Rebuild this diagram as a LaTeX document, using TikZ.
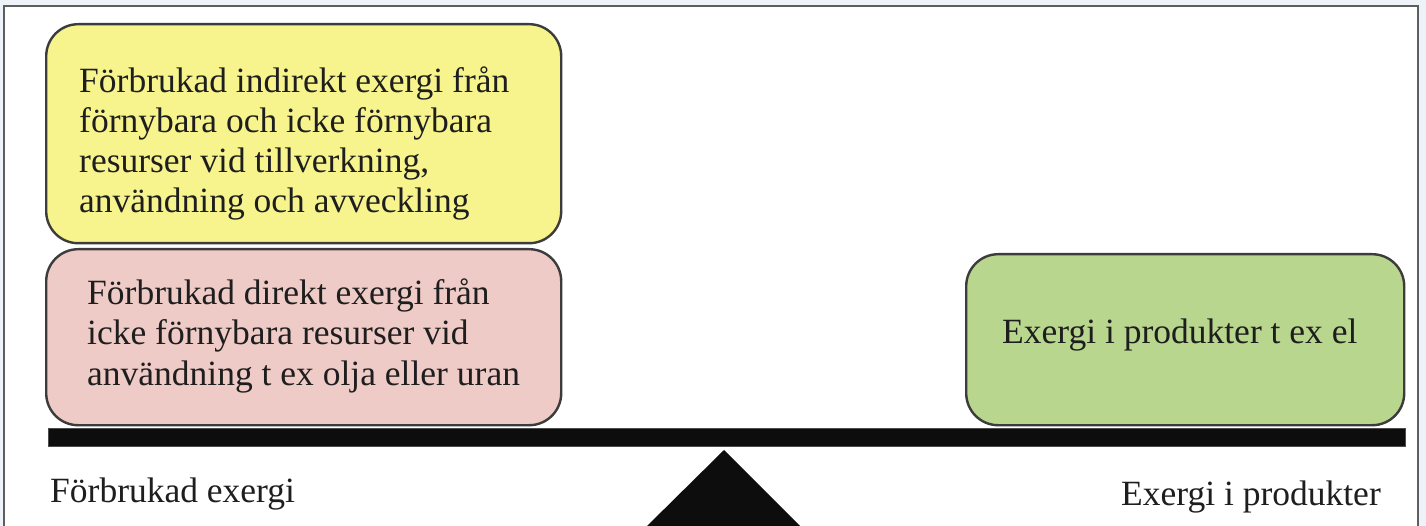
\documentclass[tikz,border=0pt]{standalone}
\usepackage{fontspec}
\setmainfont{Liberation Serif}
\definecolor{pagebg}{HTML}{EEF2F9}
\definecolor{framegray}{HTML}{5E5E5E}
\definecolor{edgegray}{HTML}{3C3C3C}
\definecolor{indirektfill}{HTML}{F7F48E}
\definecolor{direktfill}{HTML}{EECBC6}
\definecolor{produktfill}{HTML}{B9D68E}
\definecolor{textgray}{HTML}{1E1E1E}
\tikzset{
  x=1pt, y=-1pt,
  box/.style={draw=edgegray, line width=2.4pt, rounded corners=32pt,
    inner sep=0pt, anchor=north west},
  % multi-line text is anchored at the baseline of its last line
  txt/.style={anchor=base west, inner sep=0pt, align=left, text=textgray,
    font=\fontsize{35.5}{40.3}\selectfont},
  beam/.style={fill=black!95, draw=black!70, line width=0.8pt},
}
\begin{document}
\begin{tikzpicture}
  \useasboundingbox (0,0) rectangle (1426,526);
  \clip (0,0) rectangle (1426,526);
  % page background and frame
  \fill[pagebg] (0,0) rectangle (1426,526);
  \filldraw[fill=white, draw=framegray, line width=1.8pt] (4,6) rectangle (1418,560);

  % left side: indirect and direct exergy
  \node[box, fill=indirektfill, minimum width=515pt, minimum height=219pt]
    (indirekt) at (45,23) {};
  \node[txt] (indirekttext) at (79,213)
    {Förbrukad indirekt exergi från\\förnybara och icke förnybara\\resurser vid tillverkning,\\användning och avveckling};

  \node[box, fill=direktfill, minimum width=515pt, minimum height=176pt]
    (direkt) at (45,248) {};
  \node[txt] (direkttext) at (87,385)
    {Förbrukad direkt exergi från\\icke förnybara resurser vid\\användning t ex olja eller uran};

  % right side: exergy in products
  \node[box, fill=produktfill, minimum width=438pt, minimum height=171pt]
    (produkt) at (965,253) {};
  \node[txt] (produkttext) at (1002,343) {Exergi i produkter t ex el};

  % balance beam and fulcrum
  \node[beam, anchor=north west, minimum width=1357pt, minimum height=18pt, inner sep=0pt]
    (balk) at (48,428) {};
  \coordinate (spets) at (724,450);
  \fill[black!95] (spets) -- (802,528) -- (645,528) -- cycle;

  % side captions
  \node[txt] (vanster) at (50,502) {Förbrukad exergi};
  \node[txt] (hoger) at (1121,505) {Exergi i produkter};
\end{tikzpicture}
\end{document}
